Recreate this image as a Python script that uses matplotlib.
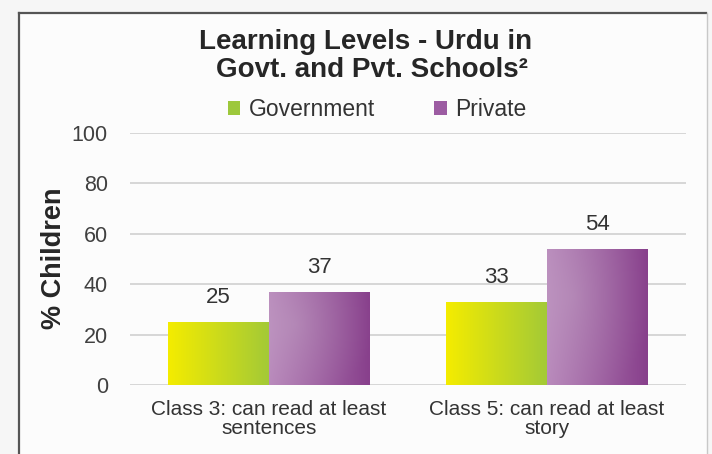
import numpy as np
import matplotlib.pyplot as plt
from matplotlib.colors import to_rgb
from matplotlib.lines import Line2D

plt.rcParams['font.family'] = ['Liberation Sans', 'DejaVu Sans']

categories = ['Class 3: can read at least\nsentences', 'Class 5: can read at least\nstory']
series_names = ['Government', 'Private']
government = [25, 33]
private = [37, 54]
yticks = [0, 20, 40, 60, 80, 100]

# left colour, right colour, legend colour
styles = {
    'Government': ('#f4ec00', '#a4ca36', '#9dc83c'),
    'Private': ('#b888bb', '#88408c', '#9c5ca2'),
}


def gradient_fill(ax, bar, left, right, glow):
    x0, y0 = bar.get_x(), bar.get_y()
    x1, y1 = x0 + bar.get_width(), y0 + bar.get_height()
    nx, ny = 60, 60
    t = np.linspace(0, 1, nx)[None, :, None]
    c0 = np.array(to_rgb(left))[None, None, :]
    c1 = np.array(to_rgb(right))[None, None, :]
    img = c0 * (1 - t) + c1 * t
    img = np.repeat(img, ny, axis=0)
    if glow:
        # soft highlight near the top-left
        yy, xx = np.mgrid[0:1:ny * 1j, 0:1:nx * 1j]
        d = np.sqrt((xx - 0.25) ** 2 + (yy - 0.35) ** 2)
        w = np.clip(1 - d / 0.8, 0, 1)[:, :, None] * 0.18
        img = img * (1 - w) + w * 0.85
    im = ax.imshow(img, extent=(x0, x1, y0, y1), origin='upper',
                   aspect='auto', zorder=bar.get_zorder() + 0.1,
                   interpolation='bilinear')
    im.set_clip_path(bar)


fig = plt.figure(figsize=(7.12, 4.54), dpi=100)
fig.patch.set_facecolor('#f6f6f6')

# chart frame
fig.add_artist(plt.Rectangle((19 / 712, -0.01), 689 / 712, 1 - 13 / 454 + 0.01,
                             transform=fig.transFigure, facecolor='#fcfcfc',
                             edgecolor='none', zorder=0))
fig.add_artist(Line2D([19 / 712, 19 / 712], [0, 1 - 13 / 454], transform=fig.transFigure,
                      color='#555555', lw=1.6))
fig.add_artist(Line2D([19 / 712, 706 / 712], [1 - 13 / 454, 1 - 13 / 454],
                      transform=fig.transFigure, color='#555555', lw=1.6))
fig.add_artist(Line2D([707 / 712, 707 / 712], [0, 1 - 13 / 454], transform=fig.transFigure,
                      color='#c8c8c8', lw=1.0))

ax = fig.add_axes([130 / 712, 1 - 385 / 454, 556 / 712, 252 / 454])
ax.set_facecolor('none')

x = np.arange(len(categories))
w = 0.363
bars_g = ax.bar(x - w / 2, government, w, color=styles['Government'][2],
                label='Government', zorder=3)
bars_p = ax.bar(x + w / 2, private, w, color=styles['Private'][2],
                label='Private', zorder=3)

for b in bars_g:
    gradient_fill(ax, b, styles['Government'][0], styles['Government'][1], False)
for b in bars_p:
    gradient_fill(ax, b, styles['Private'][0], styles['Private'][1], True)

for bars, vals in [(bars_g, government), (bars_p, private)]:
    for b, v in zip(bars, vals):
        ax.annotate(str(v), (b.get_x() + b.get_width() / 2, v),
                    xytext=(0, 10), textcoords='offset points',
                    ha='center', va='bottom', fontsize=16, color='#333333')

ax.set_xlim(-0.5, len(categories) - 0.5)
ax.set_ylim(0, 100)
ax.set_yticks(yticks)
ax.set_xticks(x)
ax.set_xticklabels(categories, fontsize=15, color='#333333', linespacing=0.95)
ax.tick_params(axis='y', labelsize=15.5, colors='#404040', length=0, pad=16)
ax.tick_params(axis='x', length=0, pad=11)
ax.yaxis.grid(True, color='#d4d4d4', lw=1.3, zorder=0)
ax.set_axisbelow(True)
for s in ax.spines.values():
    s.set_visible(False)

fig.text(54 / 712, 1 - 258 / 454, '% Children', rotation=90, ha='center', va='center',
         fontsize=19.5, fontweight='bold', color='#262626')

fig.text(366 / 712, 1 - 42 / 454, 'Learning Levels - Urdu in', ha='center', va='center',
         fontsize=20, fontweight='bold', color='#262626')
fig.text(372 / 712, 1 - 70 / 454, 'Govt. and Pvt. Schools\u00b2', ha='center', va='center',
         fontsize=20, fontweight='bold', color='#262626')

leg = fig.legend(handles=[bars_g, bars_p], labels=series_names, loc='center',
                 bbox_to_anchor=(377 / 712, 1 - 110 / 454), ncol=2, frameon=False,
                 fontsize=16.5, handlelength=0.55, handleheight=0.55, handletextpad=0.35,
                 columnspacing=2.6, labelcolor='#333333')

fig.savefig('out.png', dpi=100, facecolor=fig.get_facecolor())
